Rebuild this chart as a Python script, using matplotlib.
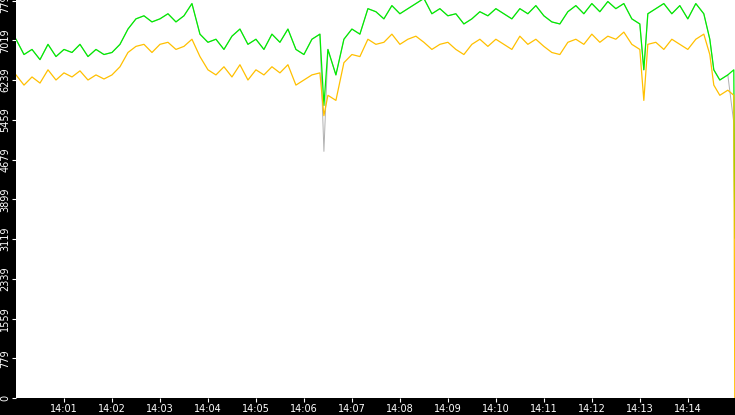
import numpy as np
import matplotlib.pyplot as plt

# pixel x positions, converted to seconds after 14:00
xpix = [16, 24, 32, 40, 48, 56, 64, 72, 80, 88, 96, 104, 112, 120, 128, 136, 144, 152, 160, 168,
        176, 184, 192, 200, 208, 216, 224, 232, 240, 248, 256, 264, 272, 280, 288, 296, 304, 312, 320, 324,
        328, 336, 344, 352, 360, 368, 376, 384, 392, 400, 408, 416, 424, 432, 440, 448, 456, 464, 472, 480,
        488, 496, 504, 512, 520, 528, 536, 544, 552, 560, 568, 576, 584, 592, 600, 608, 616, 624, 632, 640,
        644, 648, 656, 664, 672, 680, 688, 696, 704, 710, 714, 720, 728, 734, 735]
seconds = [(x - 16) * 1.25 for x in xpix]

green = [7040, 6740, 6840, 6640, 6940, 6700, 6840, 6780, 6940, 6700, 6840, 6740, 6780, 6940, 7240, 7440, 7500, 7380, 7440, 7540,
         7380, 7500, 7740, 7140, 6980, 7040, 6840, 7100, 7240, 6940, 7040, 6840, 7140, 6980, 7240, 6840, 6740, 7040, 7140, 5740,
         6840, 6340, 7040, 7240, 7140, 7640, 7580, 7440, 7700, 7540, 7640, 7740, 7840, 7540, 7640, 7500, 7540, 7340, 7440, 7580,
         7500, 7640, 7540, 7440, 7640, 7540, 7700, 7500, 7380, 7340, 7580, 7700, 7540, 7740, 7580, 7780, 7640, 7740, 7440, 7340,
         6440, 7540, 7640, 7740, 7540, 7700, 7440, 7740, 7540, 7040, 6440, 6240, 6340, 6440, 3140]

orange = [6340, 6140, 6300, 6180, 6440, 6240, 6380, 6300, 6420, 6240, 6340, 6260, 6340, 6500, 6780, 6900, 6940, 6780, 6940, 6980,
          6840, 6900, 7040, 6700, 6440, 6340, 6500, 6300, 6540, 6240, 6440, 6340, 6500, 6380, 6540, 6140, 6240, 6340, 6380, 5540,
          5940, 5840, 6580, 6740, 6700, 7040, 6940, 6980, 7140, 6940, 7040, 7100, 6980, 6840, 6940, 6980, 6840, 6740, 6940, 7040,
          6900, 7040, 6940, 6840, 7100, 6940, 7040, 6900, 6780, 6740, 6980, 7040, 6940, 7140, 6980, 7100, 7040, 7180, 6940, 6840,
          5840, 6940, 6980, 6840, 7040, 6940, 6840, 7040, 7140, 6740, 6140, 5940, 6040, 5940, 0]

# gray series mostly sits under the green one; only its dips show
gray = list(green)
gray[39] = 4840
gray[-2] = 5400

ytick_vals = [0, 779, 1559, 2339, 3119, 3899, 4679, 5459, 6239, 7019, 7799]
xtick_labels = ["14:%02d" % m for m in range(1, 15)]

fig = plt.figure(figsize=(7.35, 4.15), dpi=100, facecolor='black')
ax = fig.add_axes([16 / 735, 17 / 415, 719 / 735, 398 / 415])
ax.set_facecolor('white')

ax.plot(seconds, gray, color='#b0b0b0', lw=0.7)
ax.plot(seconds, green, color='#00ee00', lw=0.9)
ax.plot(seconds, orange, color='#ffc000', lw=0.9)

ax.set_xlim(0, 899)
ax.set_ylim(0, 7810)
ax.set_yticks(ytick_vals)
ax.set_yticklabels([str(v) for v in ytick_vals], rotation=90, va='center')
ax.set_xticks([60 * m for m in range(1, 15)])
ax.set_xticklabels(xtick_labels)
ax.tick_params(colors='white', labelsize=7, length=3, pad=1)
for s in ax.spines.values():
    s.set_visible(False)

fig.savefig('out.png', dpi=100, facecolor='black')
